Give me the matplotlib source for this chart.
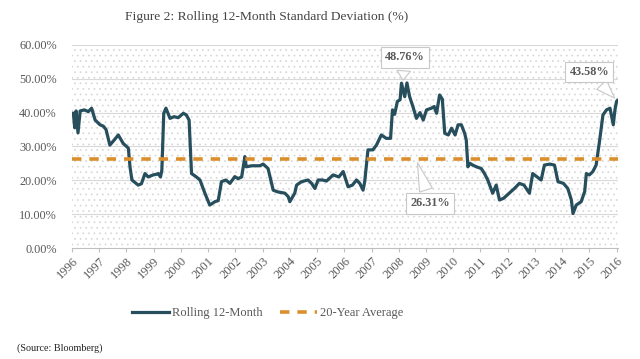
import matplotlib
matplotlib.use("Agg")
import matplotlib.pyplot as plt
from matplotlib.patches import Rectangle

# decimal year / rolling 12-month std dev (%)
years = [1996.05, 1996.10, 1996.15, 1996.22, 1996.30, 1996.45, 1996.60, 1996.72, 1996.85,
         1997.03, 1997.15, 1997.25, 1997.39, 1997.55, 1997.70, 1997.88,
         1998.07, 1998.13, 1998.20, 1998.43, 1998.55, 1998.68, 1998.80, 1998.98,
         1999.10, 1999.17, 1999.25, 1999.30, 1999.37, 1999.45, 1999.60, 1999.75, 1999.90,
         2000.09, 2000.20, 2000.30, 2000.39, 2000.57, 2000.70, 2000.88,
         2001.06, 2001.25, 2001.37, 2001.49, 2001.65, 2001.80, 2001.98,
         2002.10, 2002.23, 2002.35, 2002.40, 2002.60, 2002.90,
         2003.02, 2003.20, 2003.39, 2003.55, 2003.82, 2003.94,
         2004.00, 2004.18, 2004.25, 2004.43, 2004.67, 2004.80, 2004.92,
         2005.04, 2005.20, 2005.35, 2005.59, 2005.80, 2005.96,
         2006.14, 2006.30, 2006.45, 2006.57, 2006.69, 2006.75, 2006.87,
         2007.05, 2007.18, 2007.36, 2007.54, 2007.70, 2007.77, 2007.85, 2007.95,
         2008.05, 2008.10, 2008.22, 2008.30, 2008.40, 2008.52, 2008.65, 2008.78, 2008.90,
         2009.02, 2009.20, 2009.30, 2009.39, 2009.50, 2009.60, 2009.69, 2009.82, 2009.94,
         2010.07, 2010.18, 2010.30, 2010.42, 2010.48, 2010.54, 2010.62, 2010.72, 2010.85,
         2011.03, 2011.15, 2011.27, 2011.45, 2011.58, 2011.70, 2011.85,
         2012.06, 2012.25, 2012.43, 2012.60, 2012.80, 2012.92,
         2013.08, 2013.23, 2013.35, 2013.55, 2013.72, 2013.85,
         2014.05, 2014.21, 2014.34, 2014.40, 2014.52, 2014.70, 2014.83, 2014.89,
         2015.00, 2015.13, 2015.25, 2015.38, 2015.50, 2015.63, 2015.76, 2015.88, 2015.94,
         2016.00, 2016.03]
rolling = [39.8, 35.5, 40.5, 34.0, 40.5, 40.8, 40.3, 41.3, 37.8,
           36.4, 36.0, 35.0, 30.4, 31.9, 33.4, 30.9,
           29.5, 24.0, 20.1, 18.6, 19.0, 22.0, 21.0, 21.6,
           21.8, 22.0, 21.0, 23.0, 39.8, 41.3, 38.3, 38.8, 38.5,
           39.8, 39.3, 37.8, 22.0, 21.0, 20.1, 16.2,
           12.7, 13.7, 14.0, 19.6, 20.1, 19.1, 21.1,
           20.5, 21.0, 27.0, 24.0, 24.3, 24.3,
           24.8, 23.5, 17.1, 16.6, 16.2, 15.2,
           13.7, 16.2, 18.6, 19.6, 20.1, 19.1, 17.6,
           20.1, 20.1, 19.8, 21.6, 21.0, 22.6,
           18.1, 18.6, 20.1, 19.1, 17.1, 19.6, 29.0,
           29.0, 30.4, 33.4, 32.4, 32.4, 40.8, 39.5, 43.3,
           43.8, 48.7, 44.7, 48.76, 44.7, 41.8, 38.3, 40.0, 37.8,
           40.8, 41.3, 41.8, 39.8, 45.2, 44.0, 33.9, 33.4, 35.4,
           33.4, 36.4, 36.4, 33.9, 31.9, 24.0, 25.0, 24.5, 24.0,
           23.5, 22.0, 20.1, 16.2, 18.6, 14.2, 14.7,
           16.2, 17.6, 19.1, 18.6, 16.2, 22.0,
           21.0, 20.1, 24.5, 24.8, 24.5, 19.6,
           19.1, 17.6, 14.2, 10.2, 12.7, 13.7, 16.7, 22.0,
           21.6, 22.6, 24.5, 31.9, 39.3, 40.8, 41.3, 36.4, 40.8,
           43.3, 43.58]
avg_20y = 26.31
year_ticks = list(range(1996, 2017))
y_ticks = [0, 10, 20, 30, 40, 50, 60]

line_col = "#264e5c"
avg_col = "#db8f2c"
txt_col = "#595959"
serif = ["Liberation Serif", "DejaVu Serif"]

plt.rcParams["font.family"] = serif

fig = plt.figure(figsize=(6.4, 3.59), dpi=100)
ax = fig.add_axes([0.1125, 0.309, 0.853, 0.566])

# dotted background pattern
plt.rcParams["hatch.linewidth"] = 0.5
bg = Rectangle((0, 0), 1, 1, transform=ax.transAxes, facecolor="white",
               edgecolor="#d6d6d6", hatch="...", linewidth=0, zorder=0)
ax.add_patch(bg)

for v in y_ticks[1:]:
    ax.axhline(v, color="#d9d9d9", lw=0.8, zorder=1)

ax.plot(years, rolling, color=line_col, lw=2.3, zorder=3, label="Rolling 12-Month",
        solid_joinstyle="round")
ax.axhline(avg_20y, color=avg_col, lw=2.6, ls=(0, (2.6, 2.2)), zorder=4,
           label="20-Year Average")

ax.set_xlim(1996, 2016.05)
ax.set_ylim(0, 60)
ax.set_yticks(y_ticks)
ax.set_yticklabels(["%.2f%%" % v for v in y_ticks], color=txt_col, fontsize=8.8)
ax.set_xticks(year_ticks)
ax.set_xticklabels([str(y) for y in year_ticks], rotation=45, ha="right",
                   rotation_mode="anchor", color=txt_col, fontsize=9)
ax.tick_params(axis="y", length=0, pad=11)
ax.tick_params(axis="x", length=3, color="#bfbfbf", pad=2)
for s in ["top", "right", "left"]:
    ax.spines[s].set_visible(False)
ax.spines["bottom"].set_color("#bfbfbf")

box = dict(boxstyle="square,pad=0.35", fc="white", ec="#c8c8c8", lw=0.8)
arr = dict(arrowstyle="wedge,tail_width=1.1,shrink_factor=0.5", fc="white",
           ec="#c8c8c8", lw=0.8)
ax.annotate("48.76%", xy=(2008.15, 48.76), xytext=(2008.22, 56.3), ha="center",
            va="center", fontsize=8.8, fontweight="bold", color=txt_col,
            bbox=box, arrowprops=arr, zorder=5)
ax.annotate("43.58%", xy=(2016.0, 43.7), xytext=(2015.0, 52.0), ha="center",
            va="center", fontsize=8.8, fontweight="bold", color=txt_col,
            bbox=box, arrowprops=arr, zorder=5)
ax.annotate("26.31%", xy=(2008.66, 26.0), xytext=(2009.15, 13.2), ha="center",
            va="center", fontsize=8.8, fontweight="bold", color=txt_col,
            bbox=box, arrowprops=arr, zorder=5)

fig.text(0.416, 0.952, "Figure 2: Rolling 12-Month Standard Deviation (%)", ha="center",
         va="center", fontsize=9.7, color="#444444")
fig.legend(loc="center", bbox_to_anchor=(0.418, 0.128), ncol=2, frameon=False,
           fontsize=9, handlelength=3.0, columnspacing=1.4, handletextpad=0.2,
           labelcolor=txt_col)
fig.text(0.027, 0.03, "(Source: Bloomberg)", ha="left", va="center", fontsize=7.3,
         color="#222222")

fig.savefig("out.png", dpi=100)
